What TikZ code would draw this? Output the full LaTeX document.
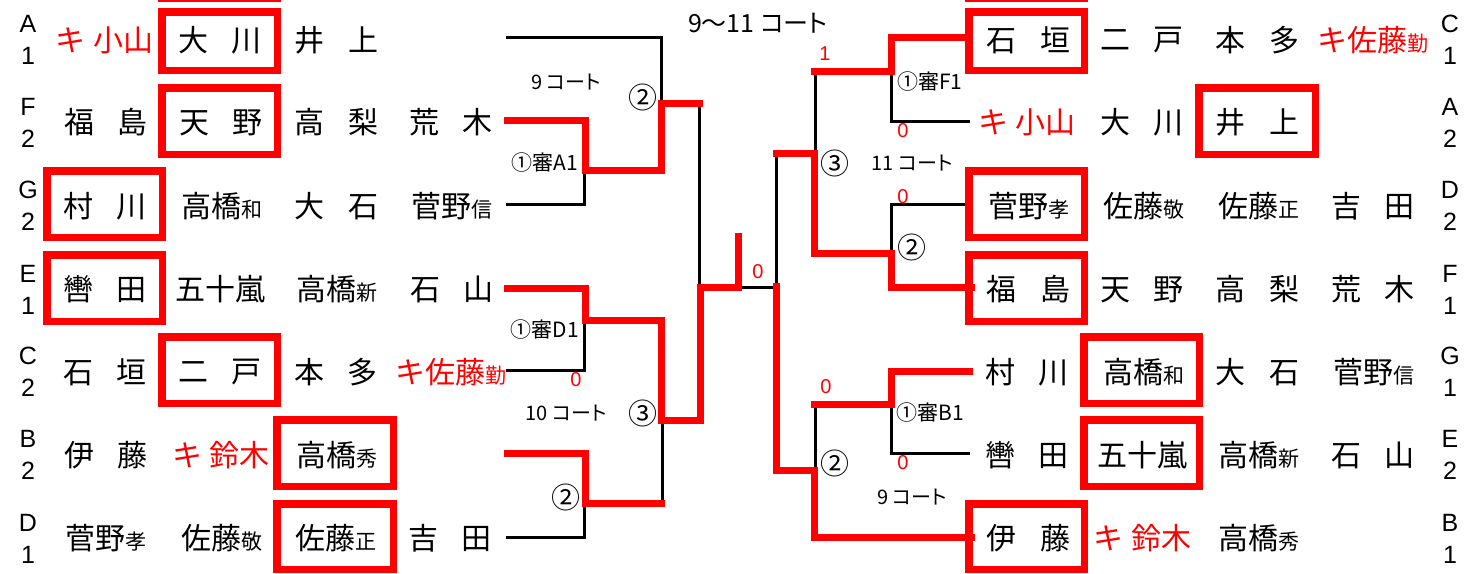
\documentclass[tikz,border=0pt]{standalone}
\usepackage{fontspec}
\setmainfont{Liberation Sans}
\newfontfamily\jp{Noto Sans CJK JP}
\newfontfamily\jpp[RawFeature=+palt]{Noto Sans CJK JP}
\newcommand\two[2]{#1\hspace{11.75pt}#2}
\newcommand\sfx[1]{{\fontsize{10.5pt}{10.5pt}\selectfont #1}}
\newcommand\ki[1]{キ\hspace{3.75pt}#1}
\begin{document}
\begin{tikzpicture}[x=0.5pt,y=-0.5pt,line join=miter,
  nm/.style={font=\jp\fontsize{15pt}{15pt}\selectfont,inner sep=0pt,anchor=center},
  rednm/.style={nm,text=red},
  lab/.style={font=\fontsize{12.5pt}{12.5pt}\selectfont,inner sep=0pt},
  court/.style={font=\jpp\fontsize{10pt}{10pt}\selectfont,inner sep=0pt},
  judge/.style={font=\jp\fontsize{10.5pt}{10.5pt}\selectfont,inner sep=0pt},
  circ/.style={font=\jp\fontsize{14.5pt}{14.5pt}\selectfont,inner sep=0pt},
  score/.style={font=\fontsize{10pt}{10pt}\selectfont,text=red,inner sep=0pt},
  blk/.style={line width=1.5pt,black},
  rd/.style={line width=3.5pt,red},
  winbox/.style={draw=red,line width=3.75pt}]
\useasboundingbox (0,0) rectangle (1471,573);
\fill[white] (0,0) rectangle (1471,573);
\newcommand\wbox[4]{\draw[winbox] ({#1+3.75},{#2+3.75}) rectangle ({#3-3.75},{#4-3.75});}
% ---------- black bracket lines ----------
\draw[blk] (506,37) -- (661.5,37) -- (661.5,104);
\draw[blk] (506,204) -- (584.5,204) -- (584.5,171);
\draw[blk] (699,103) -- (699,287);
\draw[blk] (506,370) -- (584.5,370) -- (584.5,321);
\draw[blk] (662,503) -- (662,420);
\draw[blk] (506,537) -- (584.5,537) -- (584.5,503);
\draw[blk] (738,287) -- (776,287) -- (776,153);
\draw[blk] (815,71) -- (815,153);
\draw[blk] (891.5,71) -- (891.5,121.5) -- (970,121.5);
\draw[blk] (891.5,253) -- (891.5,204) -- (965,204);
\draw[blk] (815,404) -- (815,470);
\draw[blk] (891.5,404) -- (891.5,453) -- (970,453);
% ---------- red winner lines ----------
\draw[rd] (504,120.5) -- (585.5,120.5) -- (585.5,170.5) -- (661,170.5) -- (661,103.5) -- (703,103.5);
\draw[rd] (504,288.5) -- (585.5,288.5) -- (585.5,320.5) -- (661,320.5) -- (661,420.5) -- (700,420.5) -- (700,287) -- (738,287) -- (738,233);
\draw[rd] (504,453.5) -- (585.5,453.5) -- (585.5,503.5) -- (665,503.5);
\draw[rd] (811,71) -- (891.5,71) -- (891.5,37.5) -- (973,37.5);
\draw[rd] (773,153.5) -- (814.5,153.5) -- (814.5,253.5) -- (891.5,253.5) -- (891.5,287) -- (975,287);
\draw[rd] (776.5,283) -- (776.5,470.5) -- (814.5,470.5) -- (814.5,537) -- (975,537);
\draw[rd] (811,404) -- (891.5,404) -- (891.5,371) -- (973,371);
% ---------- winner boxes ----------
\fill[red] (158,0) rectangle (281,1.5);
\fill[red] (965,0) rectangle (1088,1.5);
\wbox{158}{8}{281}{74}
\wbox{158}{84}{281}{158}
\wbox{43}{167}{166}{241}
\wbox{43}{251}{166}{325}
\wbox{158}{333}{281}{407}
\wbox{273}{416}{397}{490}
\wbox{273}{500}{397}{573}
\wbox{965}{8}{1088}{74}
\wbox{1195}{84}{1319}{158}
\wbox{965}{167}{1088}{241}
\wbox{965}{251}{1088}{325}
\wbox{1080}{333}{1203}{407}
\wbox{1080}{416}{1203}{490}
\wbox{965}{500}{1088}{573}
% ---------- left group letters ----------
\node[lab] (la) at (28,24) {A};   \node[lab] (lan) at (28,56) {1};
\node[lab] (lf) at (28,106.5) {F};  \node[lab] (lfn) at (28,138.5) {2};
\node[lab] (lg) at (28,190) {G};  \node[lab] (lgn) at (28,222) {2};
\node[lab] (le) at (28,273.5) {E};  \node[lab] (len) at (28,305.5) {1};
\node[lab] (lc) at (28,356) {C};  \node[lab] (lcn) at (28,388) {2};
\node[lab] (lb) at (28,439) {B};  \node[lab] (lbn) at (28,471) {2};
\node[lab] (ld) at (28,522.5) {D};  \node[lab] (ldn) at (28,554.5) {1};
% ---------- right group letters ----------
\node[lab] (rc) at (1450,24) {C};   \node[lab] (rcn) at (1450,56) {1};
\node[lab] (ra) at (1450,106.5) {A};  \node[lab] (ran) at (1450,138.5) {2};
\node[lab] (rd) at (1450,190) {D};  \node[lab] (rdn) at (1450,222) {2};
\node[lab] (rf) at (1450,273.5) {F};  \node[lab] (rfn) at (1450,305.5) {1};
\node[lab] (rg) at (1450,356) {G};  \node[lab] (rgn) at (1450,388) {1};
\node[lab] (re) at (1450,439) {E};  \node[lab] (ren) at (1450,471) {2};
\node[lab] (rb) at (1450,522.5) {B};  \node[lab] (rbn) at (1450,554.5) {1};
% ---------- left names ----------
\node[rednm] (l11) at (104.5,40) {\ki{小山}};
\node[nm] (l12) at (220,40) {\two{大}{川}};
\node[nm] (l13) at (336.5,40) {\two{井}{上}};
\node[nm] (l21) at (106,122.5) {\two{福}{島}};
\node[nm] (l22) at (221,122.5) {\two{天}{野}};
\node[nm] (l23) at (336.5,122.5) {\two{高}{梨}};
\node[nm] (l24) at (451,122.5) {\two{荒}{木}};
\node[nm] (l31) at (105,206) {\two{村}{川}};
\node[nm] (l32) at (221.5,206) {高橋\sfx{和}};
\node[nm] (l33) at (336.5,206) {\two{大}{石}};
\node[nm] (l34) at (452,206) {菅野\sfx{信}};
\node[nm] (l41) at (105,289.5) {\two{轡}{田}};
\node[nm] (l42) at (220.5,289.5) {五十嵐};
\node[nm] (l43) at (337,289.5) {高橋\sfx{新}};
\node[nm] (l44) at (452,289.5) {\two{石}{山}};
\node[nm] (l51) at (105,372) {\two{石}{垣}};
\node[nm] (l52) at (220,372) {\two{二}{戸}};
\node[nm] (l53) at (336,372) {\two{本}{多}};
\node[rednm] (l54) at (451,372) {キ佐藤\sfx{勤}};
\node[nm] (l61) at (106,455) {\two{伊}{藤}};
\node[rednm] (l62) at (221,455) {\ki{鈴木}};
\node[nm] (l63) at (336.5,455) {高橋\sfx{秀}};
\node[nm] (l71) at (106,538.5) {菅野\sfx{孝}};
\node[nm] (l72) at (221.5,538.5) {佐藤\sfx{敬}};
\node[nm] (l73) at (336,538.5) {佐藤\sfx{正}};
\node[nm] (l74) at (450,538.5) {\two{吉}{田}};
% ---------- right names ----------
\node[nm] (r11) at (1028.5,40) {\two{石}{垣}};
\node[nm] (r12) at (1142,40) {\two{二}{戸}};
\node[nm] (r13) at (1257.5,40) {\two{本}{多}};
\node[rednm] (r14) at (1372.5,40) {キ佐藤\sfx{勤}};
\node[rednm] (r21) at (1027,122.5) {\ki{小山}};
\node[nm] (r22) at (1142,122.5) {\two{大}{川}};
\node[nm] (r23) at (1257.5,122.5) {\two{井}{上}};
\node[nm] (r31) at (1028.5,206) {菅野\sfx{孝}};
\node[nm] (r32) at (1143.5,206) {佐藤\sfx{敬}};
\node[nm] (r33) at (1258.5,206) {佐藤\sfx{正}};
\node[nm] (r34) at (1373,206) {\two{吉}{田}};
\node[nm] (r41) at (1028.5,289.5) {\two{福}{島}};
\node[nm] (r42) at (1142,289.5) {\two{天}{野}};
\node[nm] (r43) at (1257.5,289.5) {\two{高}{梨}};
\node[nm] (r44) at (1373,289.5) {\two{荒}{木}};
\node[nm] (r51) at (1027,372) {\two{村}{川}};
\node[nm] (r52) at (1143.5,372) {高橋\sfx{和}};
\node[nm] (r53) at (1257.5,372) {\two{大}{石}};
\node[nm] (r54) at (1374,372) {菅野\sfx{信}};
\node[nm] (r61) at (1027,455) {\two{轡}{田}};
\node[nm] (r62) at (1142.5,455) {五十嵐};
\node[nm] (r63) at (1258.5,455) {高橋\sfx{新}};
\node[nm] (r64) at (1373,455) {\two{石}{山}};
\node[nm] (r71) at (1028.5,538.5) {\two{伊}{藤}};
\node[rednm] (r72) at (1142.5,538.5) {\ki{鈴木}};
\node[nm] (r73) at (1258.5,538.5) {高橋\sfx{秀}};
% ---------- bracket labels ----------
\node[court,font=\jpp\fontsize{12.5pt}{12.5pt}\selectfont] (ttl) at (758,23) {9～11 コート};
\node[court] (c9a) at (566,82) {9 コート};
\node[court] (c10) at (566,413) {10 コート};
\node[court] (c11) at (912,163) {11 コート};
\node[court] (c9b) at (912,497) {9 コート};
\node[judge] (ja1) at (545,163) {①審A1};
\node[judge] (jd1) at (545,330) {①審D1};
\node[judge] (jf1) at (930,82) {①審F1};
\node[judge] (jb1) at (930,413) {①審B1};
\node[circ] (m1) at (643,97) {②};
\node[circ] (m2) at (643,413) {③};
\node[circ] (m3) at (566,497) {②};
\node[circ] (m4) at (835,163) {③};
\node[circ] (m5) at (912,247) {②};
\node[circ] (m6) at (835,463) {②};
\node[score] (s1) at (576,380) {0};
\node[score] (s2) at (758,272) {0};
\node[score] (s3) at (825,54) {1};
\node[score] (s4) at (903,131) {0};
\node[score] (s5) at (903,197) {0};
\node[score] (s6) at (826,387) {0};
\node[score] (s7) at (903,463) {0};
\end{tikzpicture}
\end{document}
